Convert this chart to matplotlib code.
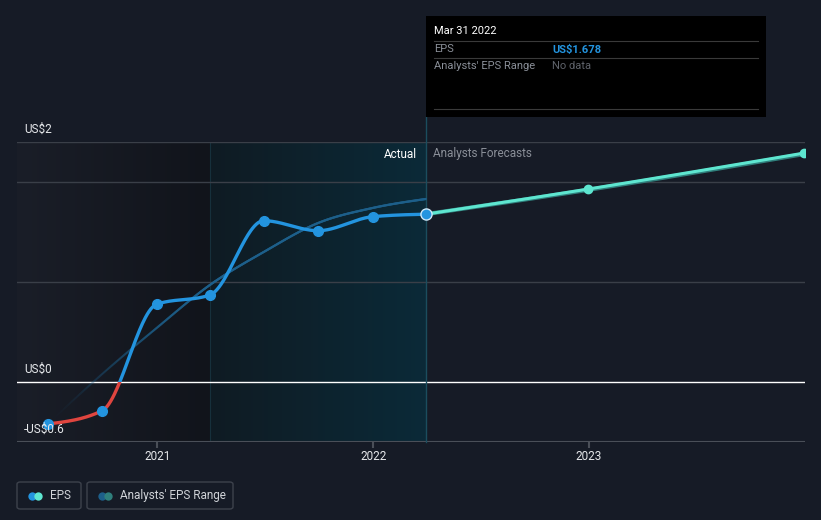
import numpy as np
import matplotlib
matplotlib.use("Agg")
import matplotlib.pyplot as plt
import matplotlib.dates as mdates
from matplotlib.patches import Rectangle, FancyBboxPatch
from matplotlib.collections import LineCollection
from matplotlib.colors import to_rgba
import datetime as dt

plt.rcParams['font.family'] = ['Roboto', 'DejaVu Sans']

# dados
eps_datas = ['2020-06-30', '2020-09-30', '2020-12-31', '2021-03-31',
             '2021-06-30', '2021-09-30', '2021-12-31', '2022-03-31']
eps_valores = [-0.42, -0.287, 0.777, 0.87, 1.613, 1.513, 1.653, 1.678]

tendencia_valores = [-0.42, 0.08, 0.54, 0.97, 1.30, 1.59, 1.74, 1.83]

prev_datas = ['2022-03-31', '2022-12-31', '2023-12-31']
prev_valores = [1.678, 1.93, 2.29]
faixa_valores = [1.678, 1.922, 2.28]

anos = ['2021', '2022', '2023']
y_rotulos = ['US$2', 'US$0', '-US$0.6']
y_posicoes = [2.4, 0.0, -0.6]

BG = '#161b26'
AZUL = '#2394df'
VERMELHO = '#e0453f'
CIANO = '#5ee6d0'
AZUL_ESC = '#1d5f8a'
TEAL_ESC = '#2f7f7c'
CINZA = '#8a8f98'

W, H = 821, 520


def num(datas):
    return np.array([mdates.date2num(dt.datetime.strptime(d, '%Y-%m-%d')) for d in datas])


def monotone(x, y, n=400):
    # curva monotona (tipo d3 monotoneX) so para desenhar a linha suave
    x = np.asarray(x, float)
    y = np.asarray(y, float)
    h = np.diff(x)
    s = np.diff(y) / h
    m = np.zeros(len(x))
    for i in range(1, len(x) - 1):
        p = (s[i - 1] * h[i] + s[i] * h[i - 1]) / (h[i - 1] + h[i])
        m[i] = (np.sign(s[i - 1]) + np.sign(s[i])) * min(abs(s[i - 1]), abs(s[i]), 0.5 * abs(p))
    if len(x) > 2:
        m[0] = (3 * s[0] - m[1]) / 2
        m[-1] = (3 * s[-1] - m[-2]) / 2
    else:
        m[:] = s[0]
    xs, ys = [], []
    for i in range(len(x) - 1):
        t = np.linspace(0, 1, n // (len(x) - 1) + 2)
        h00 = 2 * t**3 - 3 * t**2 + 1
        h10 = t**3 - 2 * t**2 + t
        h01 = -2 * t**3 + 3 * t**2
        h11 = t**3 - t**2
        xs.append(x[i] + t * h[i])
        ys.append(h00 * y[i] + h10 * h[i] * m[i] + h01 * y[i + 1] + h11 * h[i] * m[i + 1])
    return np.concatenate(xs), np.concatenate(ys)


def fx(px):
    return px / W


def fy(py):
    return 1 - py / H


fig = plt.figure(figsize=(W / 100, H / 100), dpi=100, facecolor=BG)
ax = fig.add_axes([fx(17), fy(442), fx(805) - fx(17), fy(142) - fy(442)])
ax.set_facecolor(BG)

x_eps = num(eps_datas)
x_prev = num(prev_datas)
xmin = mdates.date2num(dt.datetime(2020, 5, 9))
xmax = mdates.date2num(dt.datetime(2024, 1, 1))
ax.set_xlim(xmin, xmax)
ax.set_ylim(-0.6, 2.4)

# regioes de fundo
grad = np.linspace(0, 1, 256).reshape(1, -1)
c1, c2 = np.array(to_rgba('#1a1e28')), np.array(to_rgba('#11141b'))
img1 = c1 + (c2 - c1) * grad[..., None]
ax.imshow(img1, extent=[xmin, x_eps[3], -0.6, 2.4], aspect='auto', zorder=0)
c1, c2 = np.array(to_rgba('#0f1b23')), np.array(to_rgba('#0b2a38'))
img2 = c1 + (c2 - c1) * grad[..., None]
ax.imshow(img2, extent=[x_eps[3], x_eps[-1], -0.6, 2.4], aspect='auto', zorder=0)
ax.axvline(x_eps[3], color='#16303b', lw=0.8, zorder=1)

# grades
for v in [2.4, 2.0, 1.0]:
    ax.axhline(v, color='#3a3f48', lw=1, zorder=1)
ax.axhline(0, color='white', lw=1, zorder=2)
ax.axhline(-0.6, color='#4a4f58', lw=1.5, zorder=2)

# linha vertical do tooltip
ax.plot([x_eps[-1], x_eps[-1]], [-0.6, 2.65], color='#1b4d5e', lw=1, clip_on=False, zorder=3)

# tendencia (linha fina que desvanece)
tx, ty = monotone(x_eps, tendencia_valores)
pts = np.column_stack([tx, ty]).reshape(-1, 1, 2)
segs = np.concatenate([pts[:-1], pts[1:]], axis=1)
alfa = np.clip((tx[:-1] - tx[0]) / (x_eps[3] - tx[0]), 0.0, 1.0) ** 1.5
cores = [to_rgba(AZUL_ESC, a) for a in alfa]
ax.add_collection(LineCollection(segs, colors=cores, linewidths=1.6, zorder=4, capstyle='round'))

# previsoes
fx_, fy_ = monotone(x_prev, faixa_valores)
ax.plot(fx_, fy_, color=TEAL_ESC, lw=3.0, zorder=5, solid_capstyle='round')
px_, py_ = monotone(x_prev, prev_valores)
ax.plot(px_, py_, color=CIANO, lw=2.2, zorder=6, solid_capstyle='round')
ax.plot(x_prev[1:], prev_valores[1:], 'o', color=CIANO, ms=6, zorder=7, clip_on=True)

# EPS (vermelho abaixo de zero)
ex, ey = monotone(x_eps, eps_valores)
l_az, = ax.plot(ex, ey, color=AZUL, lw=2.4, zorder=8, solid_capstyle='round')
l_vm, = ax.plot(ex, ey, color=VERMELHO, lw=2.4, zorder=8, solid_capstyle='round')
l_az.set_clip_path(Rectangle((xmin, 0), xmax - xmin, 3, transform=ax.transData))
l_vm.set_clip_path(Rectangle((xmin, -0.6), xmax - xmin, 0.6, transform=ax.transData))
ax.plot(x_eps[:-1], eps_valores[:-1], 'o', color=AZUL, ms=7, zorder=9)
ax.plot(x_eps[-1], eps_valores[-1], 'o', color=AZUL, ms=8, mec='#cfe8f7', mew=1, zorder=9)

# textos Actual / Analysts Forecasts
ax.annotate('Actual', xy=(x_eps[-1], 2.28), xytext=(-9, 0), textcoords='offset pixels',
            color='white', fontsize=8.5, ha='right', va='center', zorder=10)
ax.annotate('Analysts Forecasts', xy=(x_eps[-1], 2.28), xytext=(7, 0), textcoords='offset pixels',
            color=CINZA, fontsize=8.5, ha='left', va='center', zorder=10)

# rotulos eixo y
for rot, v in zip(y_rotulos, y_posicoes):
    ax.annotate(rot, xy=(0, v), xycoords=('axes fraction', 'data'), xytext=(7, 6),
                textcoords='offset pixels', color='#e6e8eb', fontsize=8.5, ha='left', va='bottom',
                annotation_clip=False, zorder=10)

# eixo x
ax.set_yticks([])
ax.set_xticks(num([a + '-01-01' for a in anos]))
ax.set_xticklabels(anos)
ax.tick_params(axis='x', colors='#4a4f58', labelcolor='#e6e8eb', labelsize=8.5, length=4, width=1.5, pad=2)
for s in ax.spines.values():
    s.set_visible(False)

# tooltip
fig.add_artist(Rectangle((fx(426), fy(117)), fx(766) - fx(426), fy(16) - fy(117),
                         transform=fig.transFigure, facecolor='black', edgecolor='none', zorder=20))
for yy in [41.5, 58, 109]:
    fig.add_artist(plt.Line2D([fx(434), fx(758)], [fy(yy), fy(yy)], transform=fig.transFigure,
                              color='#3a3a3a', lw=0.8, zorder=21))
fig.text(fx(434), fy(31), 'Mar 31 2022', color='white', fontsize=8, va='center', zorder=22)
fig.text(fx(434), fy(49.5), 'EPS', color=CINZA, fontsize=8, va='center', zorder=22)
fig.text(fx(552), fy(49.5), 'US$1.678', color=AZUL, fontsize=8, fontweight='bold', va='center', zorder=22)
fig.text(fx(434), fy(66), "Analysts' EPS Range", color=CINZA, fontsize=8, va='center', zorder=22)
fig.text(fx(552), fy(66), 'No data', color='#5f636b', fontsize=8, va='center', zorder=22)

# legenda
caixas = [(17, 81, AZUL, CIANO, 'EPS'), (87, 233, AZUL_ESC, TEAL_ESC, "Analysts' EPS Range")]
for x0, x1, ca, cb, txt in caixas:
    fig.add_artist(FancyBboxPatch((fx(x0), fy(509)), fx(x1) - fx(x0), fy(482) - fy(509),
                                  boxstyle='round,pad=0,rounding_size=0.004', transform=fig.transFigure,
                                  facecolor='none', edgecolor='#3d424c', lw=1))
    fig.add_artist(plt.Line2D([fx(x0 + 15)], [fy(495.5)], marker='o', ms=6, color=ca, mew=0,
                              transform=fig.transFigure))
    fig.add_artist(plt.Line2D([fx(x0 + 21)], [fy(495.5)], marker='o', ms=6, color=cb, mew=0,
                              transform=fig.transFigure))
    fig.text(fx(x0 + 33), fy(495.5), txt, color='#d0d3d8', fontsize=8.5, va='center')

fig.savefig('out.png', dpi=100, facecolor=BG)
